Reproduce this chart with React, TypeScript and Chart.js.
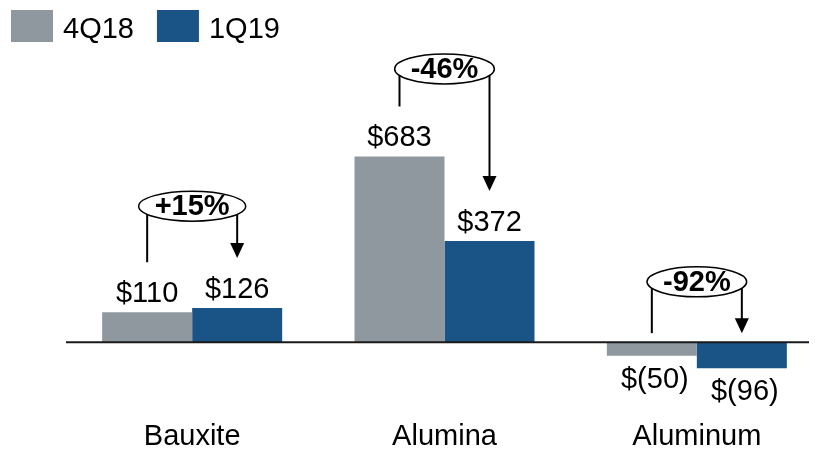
import React, { useEffect, useRef } from 'react';
import { Chart, registerables } from 'chart.js';

Chart.register(...registerables);

const categories = ['Bauxite', 'Alumina', 'Aluminum'];
const seriesNames = ['4Q18', '1Q19'];
const values4Q18 = [110, 683, -50];
const values1Q19 = [126, 372, -96];
const changeLabels = ['+15%', '-46%', '-92%'];
const calloutLevels = [500, 1005, 222];
const seriesColors = ['#8f989f', '#1a5486'];

const FONT = '"Liberation Sans", Arial, Helvetica, sans-serif';
const FS = 29;

function fmt(v: number): string {
  return v >= 0 ? `$${v}` : `$(${Math.abs(v)})`;
}

const customPlugin = {
  id: 'customDecor',
  afterDatasetsDraw(chart: any) {
    const ctx = chart.ctx as CanvasRenderingContext2D;
    const yScale = chart.scales.y;
    const zero = yScale.getPixelForValue(0);
    ctx.save();

    // zero axis line
    ctx.strokeStyle = '#1a1a1a';
    ctx.lineWidth = 2;
    ctx.beginPath();
    ctx.moveTo(chart.chartArea.left, zero);
    ctx.lineTo(chart.width, zero);
    ctx.stroke();

    // value labels
    ctx.font = `${FS}px ${FONT}`;
    ctx.fillStyle = '#000';
    ctx.textAlign = 'center';
    ctx.textBaseline = 'alphabetic';
    chart.data.datasets.forEach((ds: any, di: number) => {
      const meta = chart.getDatasetMeta(di);
      meta.data.forEach((bar: any, i: number) => {
        const v = ds.data[i] as number;
        if (v >= 0) ctx.fillText(fmt(v), bar.x, bar.y - 10);
        else ctx.fillText(fmt(v), bar.x + 3, bar.y + 32);
      });
    });

    // callouts
    const m0 = chart.getDatasetMeta(0);
    const m1 = chart.getDatasetMeta(1);
    changeLabels.forEach((lab, i) => {
      const b0 = m0.data[i];
      const b1 = m1.data[i];
      const v0 = values4Q18[i];
      const v1 = values1Q19[i];
      const endOf = (b: any, v: number) => (v >= 0 ? b.y - 50 : zero - 9);
      const cy = yScale.getPixelForValue(calloutLevels[i]);
      const cx = (b0.x + b1.x) / 2;
      ctx.font = `bold ${FS}px ${FONT}`;
      const tw = ctx.measureText(lab).width;
      const rx = tw / 2 + 16;
      const ry = 15;
      ctx.strokeStyle = '#000';
      ctx.lineWidth = 2;
      ctx.beginPath();
      ctx.moveTo(b0.x, cy);
      ctx.lineTo(b0.x, endOf(b0, v0));
      ctx.stroke();
      const e1 = endOf(b1, v1);
      ctx.beginPath();
      ctx.moveTo(b1.x, cy);
      ctx.lineTo(b1.x, e1 - 12);
      ctx.stroke();
      ctx.fillStyle = '#000';
      ctx.beginPath();
      ctx.moveTo(b1.x - 7, e1 - 15);
      ctx.lineTo(b1.x + 7, e1 - 15);
      ctx.lineTo(b1.x, e1);
      ctx.closePath();
      ctx.fill();
      ctx.beginPath();
      ctx.ellipse(cx, cy, rx, ry, 0, 0, Math.PI * 2);
      ctx.fillStyle = '#fff';
      ctx.fill();
      ctx.lineWidth = 1.5;
      ctx.stroke();
      ctx.fillStyle = '#000';
      ctx.textAlign = 'center';
      ctx.textBaseline = 'middle';
      ctx.fillText(lab, cx, cy + 1);
    });

    // legend
    ctx.font = `${FS}px ${FONT}`;
    ctx.textAlign = 'left';
    ctx.textBaseline = 'alphabetic';
    let x = 3;
    chart.data.datasets.forEach((ds: any) => {
      ctx.fillStyle = ds.backgroundColor;
      ctx.fillRect(x, 2, 42, 32);
      ctx.fillStyle = '#000';
      const tx = x + 42 + 10;
      ctx.fillText(ds.label, tx, 30);
      x = tx + ctx.measureText(ds.label).width + 23;
    });

    ctx.restore();
  },
};

export default function App() {
  const canvasRef = useRef<HTMLCanvasElement | null>(null);

  useEffect(() => {
    const canvas = canvasRef.current;
    if (!canvas) return;
    const chart = new Chart(canvas, {
      type: 'bar',
      data: {
        labels: categories,
        datasets: [
          { label: seriesNames[0], data: values4Q18, backgroundColor: seriesColors[0], borderWidth: 0 },
          { label: seriesNames[1], data: values1Q19, backgroundColor: seriesColors[1], borderWidth: 0 },
        ],
      },
      options: {
        responsive: false,
        animation: false,
        events: [],
        layout: { padding: { left: 58, top: 0, right: 0, bottom: 0 } },
        datasets: { bar: { categoryPercentage: 0.7134, barPercentage: 1 } },
        plugins: { legend: { display: false }, tooltip: { enabled: false } },
        scales: {
          x: {
            grid: { display: false },
            border: { display: false },
            ticks: { color: '#000', font: { size: FS, family: FONT }, padding: 4 },
          },
          y: { display: false, min: -239.2, max: 1229 },
        },
      },
      plugins: [customPlugin],
    });
    return () => chart.destroy();
  }, []);

  return (
    <div style={{ width: 809, height: 441, overflow: 'hidden' }}>
      <canvas ref={canvasRef} width={815} height={450} style={{ width: 815, height: 450, display: 'block' }} />
    </div>
  );
}
